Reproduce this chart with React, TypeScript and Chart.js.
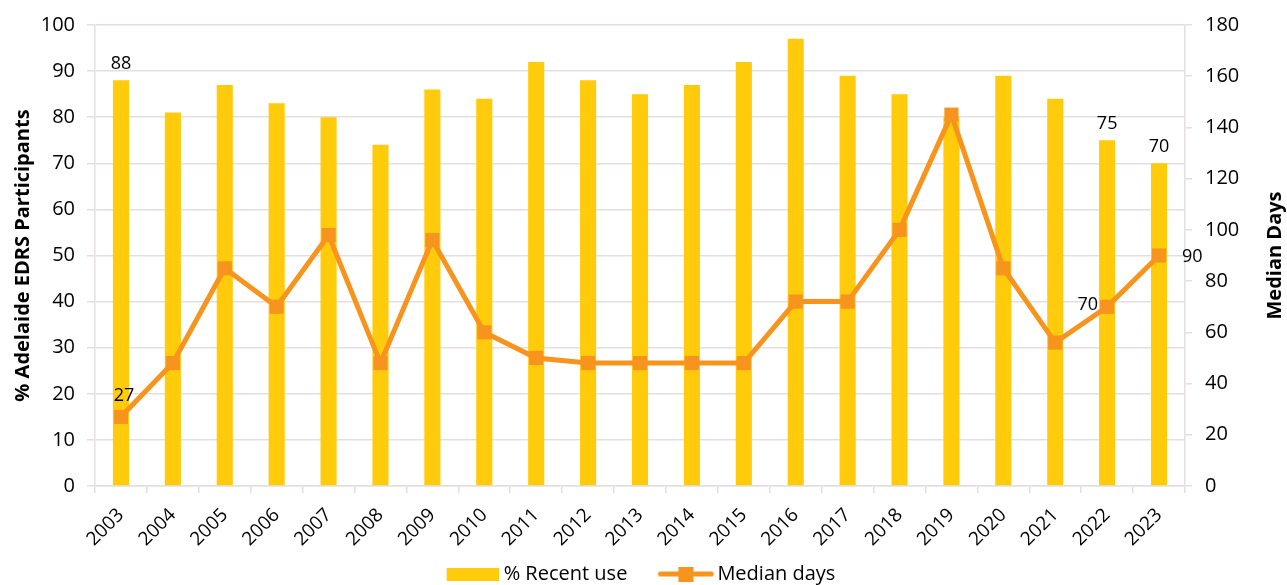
import React, { useEffect, useRef } from 'react';
import { Chart, registerables } from 'chart.js';

Chart.register(...registerables);

const years = ['2003', '2004', '2005', '2006', '2007', '2008', '2009', '2010', '2011', '2012', '2013', '2014', '2015', '2016', '2017', '2018', '2019', '2020', '2021', '2022', '2023'];
const recentUse = [88, 81, 87, 83, 80, 74, 86, 84, 92, 88, 85, 87, 92, 97, 89, 85, 80, 89, 84, 75, 70];
const medianDays = [27, 48, 85, 70, 98, 48, 96, 60, 50, 48, 48, 48, 48, 72, 72, 100, 145, 85, 56, 70, 90];
const leftAxisTitle = '% Adelaide EDRS Participants';
const rightAxisTitle = 'Median Days';
const barSeriesName = '% Recent use';
const lineSeriesName = 'Median days';
const barLabelIndices = [0, 19, 20];
const lineLabelIndices = [0, 19, 20];

const BAR_COLOR = '#FFCB0A';
const LINE_COLOR = '#F7941D';
const GRID_COLOR = '#E4DFDF';
const FONT = "'Open Sans', 'Noto Sans', sans-serif";
const lineLabelPlacement: Record<number, 'above' | 'left' | 'right'> = { 0: 'above', 19: 'left', 20: 'right' };

// legend swatches: drawn off-centre inside a wider transparent canvas
function makeBarSwatch() {
  const c = document.createElement('canvas');
  c.width = 82;
  c.height = 13;
  const ctx = c.getContext('2d')!;
  ctx.fillStyle = BAR_COLOR;
  ctx.fillRect(30, 0, 52, 13);
  return c;
}

function makeLineSwatch() {
  const c = document.createElement('canvas');
  c.width = 86;
  c.height = 15;
  const ctx = c.getContext('2d')!;
  ctx.strokeStyle = LINE_COLOR;
  ctx.lineWidth = 5;
  ctx.lineCap = 'round';
  ctx.beginPath();
  ctx.moveTo(32, 7.5);
  ctx.lineTo(83, 7.5);
  ctx.stroke();
  ctx.fillStyle = LINE_COLOR;
  ctx.fillRect(57.5 - 7.5, 0, 15, 15);
  return c;
}

const labelsPlugin = {
  id: 'customLabels',
  afterDatasetsDraw(chart: any) {
    const ctx = chart.ctx;
    ctx.save();
    ctx.fillStyle = '#000';
    ctx.font = `18px ${FONT}`;
    const barMeta = chart.getDatasetMeta(0);
    ctx.textAlign = 'center';
    ctx.textBaseline = 'alphabetic';
    barLabelIndices.forEach((i) => {
      const el = barMeta.data[i];
      ctx.fillText(String(recentUse[i]), el.x, el.y - 11);
    });
    const lineMeta = chart.getDatasetMeta(1);
    lineLabelIndices.forEach((i) => {
      const el = lineMeta.data[i];
      const p = lineLabelPlacement[i];
      const t = String(medianDays[i]);
      if (p === 'above') {
        ctx.textAlign = 'center';
        ctx.textBaseline = 'alphabetic';
        ctx.fillText(t, el.x + 3, el.y - 16);
      } else if (p === 'left') {
        ctx.textAlign = 'right';
        ctx.textBaseline = 'middle';
        ctx.fillText(t, el.x - 9, el.y - 2);
      } else {
        ctx.textAlign = 'left';
        ctx.textBaseline = 'middle';
        ctx.fillText(t, el.x + 23, el.y + 1);
      }
    });
    ctx.restore();
  },
  afterDraw(chart: any) {
    const ctx = chart.ctx;
    const area = chart.chartArea;
    ctx.save();
    ctx.fillStyle = '#000';
    ctx.font = `bold 20px ${FONT}`;
    ctx.textAlign = 'center';
    ctx.textBaseline = 'middle';
    ctx.translate(chart.width - 12, (area.top + area.bottom) / 2);
    ctx.rotate(-Math.PI / 2);
    ctx.fillText(rightAxisTitle, 0, 0);
    ctx.restore();
  },
};

export default function App() {
  const ref = useRef<HTMLCanvasElement | null>(null);
  useEffect(() => {
    document.body.style.margin = '0';
    const barSwatch = makeBarSwatch();
    const lineSwatch = makeLineSwatch();
    const chart = new Chart(ref.current!, {
      type: 'bar',
      data: {
        labels: years,
        datasets: [
          {
            type: 'bar',
            label: barSeriesName,
            data: recentUse,
            backgroundColor: BAR_COLOR,
            borderWidth: 0,
            barPercentage: 0.31,
            categoryPercentage: 1,
            yAxisID: 'y',
            order: 2,
          },
          {
            type: 'line',
            label: lineSeriesName,
            data: medianDays,
            borderColor: LINE_COLOR,
            backgroundColor: LINE_COLOR,
            borderWidth: 5,
            pointStyle: 'rect',
            pointRadius: 10,
            pointBorderWidth: 0,
            pointBackgroundColor: LINE_COLOR,
            tension: 0,
            yAxisID: 'y1',
            order: 1,
          } as any,
        ],
      },
      options: {
        responsive: false,
        animation: false,
        layout: { padding: { top: 25, left: 0, right: 30, bottom: -9 } },
        plugins: {
          tooltip: { enabled: false },
          legend: {
            position: 'bottom',
            labels: {
              usePointStyle: true,
              pointStyleWidth: 72,
              boxHeight: 15,
              padding: 8,
              color: '#000',
              font: { family: FONT, size: 20 },
              generateLabels: () => [
                { text: barSeriesName, fillStyle: BAR_COLOR, strokeStyle: BAR_COLOR, lineWidth: 0, pointStyle: barSwatch as any, datasetIndex: 0, hidden: false },
                { text: lineSeriesName, fillStyle: LINE_COLOR, strokeStyle: LINE_COLOR, lineWidth: 0, pointStyle: lineSwatch as any, datasetIndex: 1, hidden: false },
              ],
            },
          },
        },
        scales: {
          x: {
            offset: true,
            grid: { offset: true, drawOnChartArea: false, color: GRID_COLOR, tickLength: 7, lineWidth: 1.5 },
            border: { color: GRID_COLOR, width: 1.5 },
            ticks: { color: '#000', font: { family: FONT, size: 19 }, minRotation: 45, maxRotation: 45, padding: 11, autoSkip: false },
            afterFit: (s: any) => { s.height = 70; },
          },
          y: {
            position: 'left',
            min: 0,
            max: 100,
            ticks: { stepSize: 10, color: '#000', font: { family: FONT, size: 20 }, padding: 12 },
            grid: { color: GRID_COLOR, tickLength: 8, lineWidth: 1.5 },
            border: { color: GRID_COLOR, width: 1.5 },
            title: { display: true, text: leftAxisTitle, color: '#000', font: { family: FONT, size: 20, weight: 'bold' }, padding: { top: 11, bottom: 0 } },
            afterFit: (s: any) => { s.width = 95; },
          },
          y1: {
            position: 'right',
            min: 0,
            max: 180,
            ticks: { stepSize: 20, color: '#000', font: { family: FONT, size: 20 }, padding: 13 },
            grid: { drawOnChartArea: false, color: GRID_COLOR, tickLength: 7, lineWidth: 1.5 },
            border: { color: GRID_COLOR, width: 1.5 },
            afterFit: (s: any) => { s.width = 72; },
          },
        },
      },
      plugins: [labelsPlugin],
    });
    return () => chart.destroy();
  }, []);
  return <canvas ref={ref} width={1287} height={585} />;
}
